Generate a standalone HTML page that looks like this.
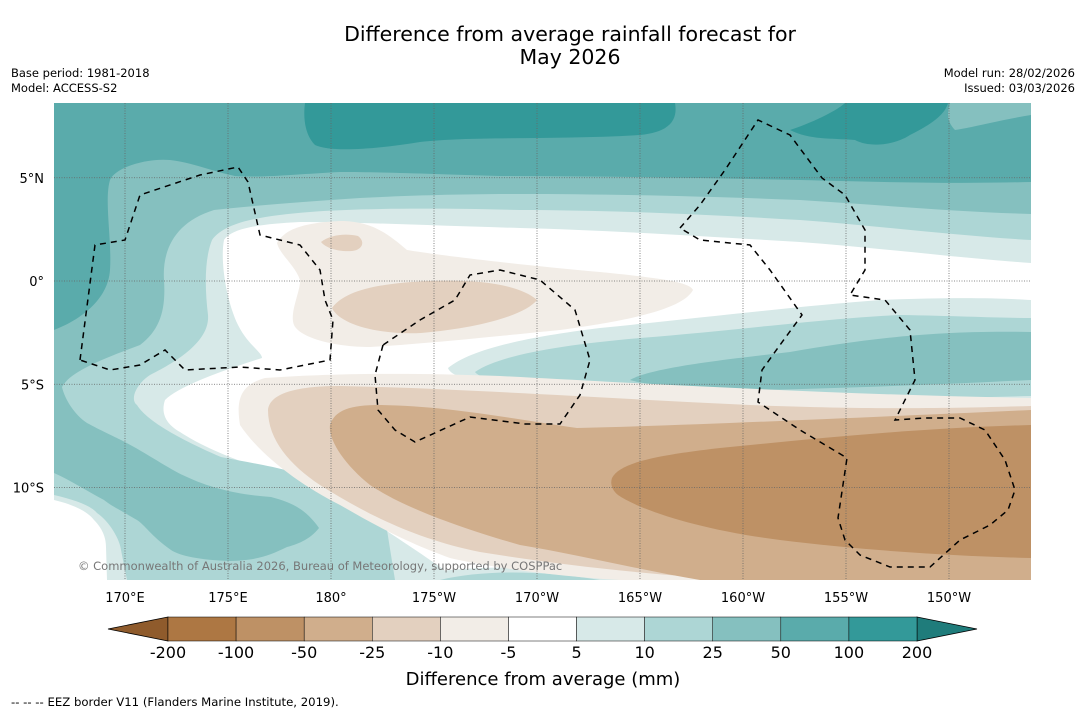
<!DOCTYPE html>
<html><head><meta charset="utf-8"><style>
body{margin:0;background:#fff;font-family:"Liberation Sans","DejaVu Sans",sans-serif}
svg text{font-family:"DejaVu Sans","Liberation Sans",sans-serif}
</style></head><body>
<svg id="fig" width="1085" height="713" viewBox="0 0 1085 713" xmlns="http://www.w3.org/2000/svg">
<rect width="1085" height="713" fill="#fff"/>
<text x="570" y="41" font-size="20.5" text-anchor="middle">Difference from average rainfall forecast for</text>
<text x="570" y="64" font-size="20.5" text-anchor="middle">May 2026</text>
<text x="11" y="77" font-size="11.5">Base period: 1981-2018</text>
<text x="11" y="92" font-size="11.5">Model: ACCESS-S2</text>
<text x="1075" y="77" font-size="11.5" text-anchor="end">Model run: 28/02/2026</text>
<text x="1075" y="92" font-size="11.5" text-anchor="end">Issued: 03/03/2026</text>
<defs><clipPath id="mc"><rect x="54" y="103" width="977" height="477"/></clipPath></defs>
<g clip-path="url(#mc)">
<rect x="54" y="103" width="977" height="477" fill="#fff"/>
<path fill="#d7e9e8" d="M54,103 H1031 V263 C960,258 880,248 800,242 C700,236 600,230 520,228 C440,226 360,222 300,222 C260,224 232,228 224,240 C220,260 226,300 238,325 C248,345 262,352 262,358 C230,368 180,385 165,400 C160,415 168,425 180,432 C200,445 227,458 287,477 C320,490 350,510 381,527 C400,540 421,553 454,577 L460,580 H54 Z"/>
<path fill="#add6d5" d="M54,103 H1031 V240 C960,236 880,226 800,220 C700,214 600,210 520,210 C440,208 360,208 310,212 C260,216 225,222 212,240 C204,260 205,290 208,315 C210,340 180,360 150,375 C135,385 130,400 137,405 C145,418 170,435 221,457 C260,465 287,467 337,487 C360,500 380,515 387,530 L395,580 H54 Z"/>
<path fill="#85c0bf" d="M54,103 H1031 V214 C960,212 880,205 800,200 C700,196 600,194 520,194 C450,194 400,196 360,198 C300,202 250,206 214,210 C175,222 162,250 164,280 C166,310 160,330 140,345 C100,360 70,372 62,387 C65,400 75,415 87,423 C100,430 115,437 121,440 C150,455 170,470 187,477 C210,488 240,495 271,497 C290,502 305,508 319,528 C310,540 295,545 287,547 C270,555 260,560 230,561 C200,560 180,556 171,550 C150,535 145,525 137,520 C120,510 110,505 104,500 C85,490 70,480 54,473 Z"/>
<path fill="#5aabab" d="M54,103 H1031 V182 C950,184 880,182 800,180 C700,178 600,176 500,176 C430,174 380,172 340,172 C300,174 260,178 235,176 C215,172 190,162 170,160 C145,158 115,168 110,180 C104,200 112,240 110,270 C108,300 80,320 54,330 Z"/>
<path fill="#85c0bf" d="M950,103 H1031 V115 C1000,120 970,128 955,130 C945,120 948,110 950,103 Z"/>
<path fill="#339999" d="M305,103 H675 C678,120 670,132 640,135 C560,140 470,136 420,142 C370,150 330,152 315,145 C305,135 303,118 305,103 Z M790,130 C820,120 840,108 845,103 H948 C945,115 930,125 910,135 C895,145 870,148 855,140 C830,138 810,140 790,130 Z"/>
<path fill="#d7e9e8" d="M54,495 C75,500 90,505 97,513 C110,522 120,540 121,550 L127,580 H54Z"/>
<path fill="#fff" d="M54,500 C75,505 88,512 94,520 C104,530 106,540 106,547 L107,580 H54Z"/>
<path fill="#d7e9e8" d="M400,580 C440,565 540,562 640,580 Z"/>
<path fill="#add6d5" d="M440,580 C480,570 540,570 600,580 Z"/>
<path fill="#d7e9e8" d="M448,368 C470,350 520,338 600,328 C700,318 800,306 880,300 C950,297 1000,298 1031,300 V405 C950,408 850,410 750,406 C650,402 550,392 480,382 C460,378 450,374 448,368 Z"/>
<path fill="#add6d5" d="M475,372 C500,355 560,345 640,338 C740,330 830,318 900,315 C960,316 1000,318 1031,318 V396 C950,398 850,400 760,398 C660,394 560,386 500,380 C485,378 478,376 475,372 Z"/>
<path fill="#85c0bf" d="M630,380 C650,368 720,360 790,352 C860,340 930,330 1031,332 V380 C950,384 850,388 760,390 C700,390 650,386 630,380 Z"/>
<path fill="#f2ede7" d="M277,243 C285,230 300,223 340,221 C371,221 387,233 407,250 C437,255 520,265 600,272 C660,278 690,282 693,290 C685,305 650,318 560,330 C480,338 420,344 370,347 C335,347 300,338 294,325 C289,313 301,290 300,280 C295,265 280,255 277,243 Z"/>
<path fill="#e3d0bf" d="M332,308 C345,290 380,283 430,281 C480,279 520,285 537,300 C525,315 480,328 421,333 C380,335 340,325 332,308 Z M321,242 C330,235 345,233 358,236 C366,242 362,250 352,251 C338,252 326,248 321,242 Z"/>
<path fill="#f2ede7" d="M240,425 C236,400 240,385 265,378 C320,374 400,372 500,376 C650,384 850,395 1031,398 V580 H620 C540,575 480,565 450,558 C400,540 370,522 340,505 C300,485 260,455 240,425 Z"/>
<path fill="#e3d0bf" d="M268,410 C270,392 300,386 340,386 C450,388 600,398 750,405 C880,410 960,408 1031,406 V580 H740 C650,575 560,565 480,552 C410,538 360,510 320,485 C290,465 268,440 268,410 Z"/>
<path fill="#d0ae8c" d="M330,425 C335,410 350,405 380,405 C450,406 520,420 577,428 C700,425 850,418 1031,410 V580 H700 C640,570 580,555 520,545 C450,525 400,505 370,485 C345,465 328,440 330,425 Z"/>
<path fill="#be9165" d="M612,478 C620,462 660,455 720,448 C820,438 920,428 1031,425 V558 C950,556 860,550 780,540 C700,530 640,510 618,495 C612,490 610,484 612,478 Z"/>
<g id="grid" stroke="#666" stroke-width="0.8" stroke-dasharray="1,1.5"></g>
<g fill="none" stroke="#000" stroke-width="1.5" stroke-dasharray="6,5">
<polyline points="80,360 95,245 125,240 140,195 200,175 238,167 248,182 260,235 300,245 320,270 325,300 333,320 330,360 280,370 240,367 185,370 165,350 140,365 110,370 80,360"/>
<polyline points="383,345 375,375 378,410 395,430 415,442 470,417 525,424 560,424 580,395 590,360 575,310 540,280 500,270 470,275 455,300 420,320 383,345"/>
<polyline points="680,228 700,205 725,170 758,120 790,135 822,178 845,195 865,230 865,270 850,295 885,300 910,330 915,380 895,420 925,418 960,418 985,430 1005,460 1015,490 1008,510 990,525 960,540 930,567 890,567 860,555 845,540 838,518 847,458 800,430 758,402 762,370 780,345 802,315 770,270 750,245 700,240 680,228"/>
</g>
<text x="78" y="570" font-size="11.5" fill="#777">© Commonwealth of Australia 2026, Bureau of Meteorology, supported by COSPPac</text>
</g>
<g id="axes" font-size="13"></g>
<g id="cbar"></g>
<text x="543" y="685" font-size="18" text-anchor="middle">Difference from average (mm)</text>
<text x="11" y="706" font-size="11.7">--  --  -- EEZ border V11 (Flanders Marine Institute, 2019).</text>
</svg>
<script>
const lonTicks=[170,175,180,-175,-170,-165,-160,-155,-150];
const lonLabels=["170°E","175°E","180°","175°W","170°W","165°W","160°W","155°W","150°W"];
const latTicks=[5,0,-5,-10];
const latLabels=["5°N","0°","5°S","10°S"];
const cbLevels=["-200","-100","-50","-25","-10","-5","5","10","25","50","100","200"];
const cbColors=["#ad7743","#be9165","#d0ae8c","#e3d0bf","#f2ede7","#ffffff","#d7e9e8","#add6d5","#85c0bf","#5aabab","#339999"];
const NS="http://www.w3.org/2000/svg";
function xLon(l){let e=l<0?l+360:l;return 125+(e-170)*20.6;}
function yLat(l){return 281-l*20.65;}
const grid=document.getElementById('grid'),axes=document.getElementById('axes');
lonTicks.forEach((l,i)=>{
 const x=xLon(l);
 const ln=document.createElementNS(NS,'line');
 
 
 ln.setAttribute('x1',x);ln.setAttribute('x2',x);ln.setAttribute('y1',103);ln.setAttribute('y2',580);grid.appendChild(ln);
 const t=document.createElementNS(NS,'text');
 
 
 t.setAttribute('x',x);t.setAttribute('y',602);t.setAttribute('text-anchor','middle');t.textContent=lonLabels[i];axes.appendChild(t);
});
latTicks.forEach((l,i)=>{
 const y=yLat(l);
 const ln=document.createElementNS(NS,'line');
 
 
 ln.setAttribute('x1',54);ln.setAttribute('x2',1031);ln.setAttribute('y1',y);ln.setAttribute('y2',y);grid.appendChild(ln);
 const t=document.createElementNS(NS,'text');
 
 
 t.setAttribute('x',44);t.setAttribute('y',y+5);t.setAttribute('text-anchor','end');t.textContent=latLabels[i];axes.appendChild(t);
});
const cb=document.getElementById('cbar');
const x0=168,x1=917,w=(x1-x0)/cbColors.length,yt=617,h=24;
const lt=document.createElementNS(NS,'polygon');


lt.setAttribute('points',`${x0},${yt} 108,${yt+h/2} ${x0},${yt+h}`);lt.setAttribute('fill','#8f5b2c');lt.setAttribute('stroke','#000');lt.setAttribute('stroke-width','0.8');cb.appendChild(lt);
const rt=document.createElementNS(NS,'polygon');


rt.setAttribute('points',`${x1},${yt} 977,${yt+h/2} ${x1},${yt+h}`);rt.setAttribute('fill','#1f7c7b');rt.setAttribute('stroke','#000');rt.setAttribute('stroke-width','0.8');cb.appendChild(rt);
cbColors.forEach((c,i)=>{
 const r=document.createElementNS(NS,'rect');
 
 
 r.setAttribute('x',x0+i*w);r.setAttribute('y',yt);r.setAttribute('width',w);r.setAttribute('height',h);r.setAttribute('fill',c);r.setAttribute('stroke','#000');r.setAttribute('stroke-width','0.5');cb.appendChild(r);
});
cbLevels.forEach((v,i)=>{
 const t=document.createElementNS(NS,'text');
 
 
 t.setAttribute('x',x0+i*w);t.setAttribute('y',658);t.setAttribute('font-size','16');t.setAttribute('text-anchor','middle');t.textContent=v;cb.appendChild(t);
});
</script>
</body></html>
